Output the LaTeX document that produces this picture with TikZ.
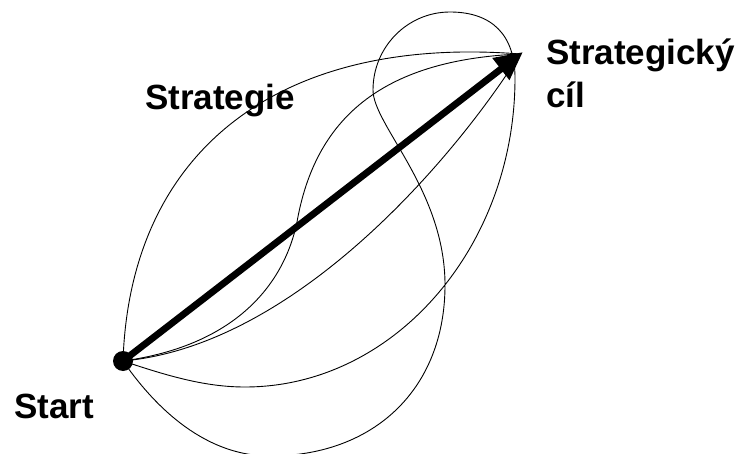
\documentclass[tikz,border=0pt]{standalone}
\usepackage{fontspec}
\setmainfont{Liberation Sans}
\usetikzlibrary{arrows.meta}
\begin{document}
\begin{tikzpicture}[x=1pt,y=-1pt,
  route/.style={draw=black, line width=0.9pt},
  goalarrow/.style={draw=black, line width=6.8pt, -{Triangle[length=28pt,width=26pt]}},
  dot/.style={circle, fill=black, inner sep=0pt, minimum size=20pt},
  txt/.style={font=\fontsize{35}{43}\selectfont\bfseries, inner sep=0pt, anchor=base west}
]
\useasboundingbox (0,0) rectangle (746,454);

% start point, goal point and the turning points of the routes
\coordinate (S) at (123,361);
\coordinate (T) at (520,54);
\coordinate (tip) at (523,52);
\coordinate (M) at (297,222);

% outer route
\draw[route] (S) .. controls (130,150) and (280,35) .. (T);
% S-shaped route
\draw[route] (S) .. controls (240,345) and (285,280) .. (M)
                 .. controls (315,120) and (380,60) .. (T);
% inner route
\draw[route] (S) .. controls (300,345) and (460,150) .. (T);
% route with a loop
\draw[route] (S) .. controls (168,376) and (205,387) .. (245,387)
                 .. controls (394,387) and (515,247) .. (515,78)
                 .. controls (515,35) and (492,12) .. (450,12)
                 .. controls (407.5,12) and (373,47) .. (373,90)
                 .. controls (373,125) and (445,190) .. (445,285)
                 .. controls (445,388) and (375,456) .. (270,456)
                 .. controls (200,456) and (150,400) .. (S);

% direct strategy
\node[dot] (start) at (S) {};
\draw[goalarrow] (start.center) -- (tip);

% labels (a multi-line node sits on the baseline of its last line)
\node[txt] (lblStart) at (14,418) {Start};
\node[txt] (lblStrategy) at (145,110) {Strategie};
\node[txt, align=left] (lblGoal) at (546,108) {Strategický\\cíl};
\end{tikzpicture}
\end{document}
